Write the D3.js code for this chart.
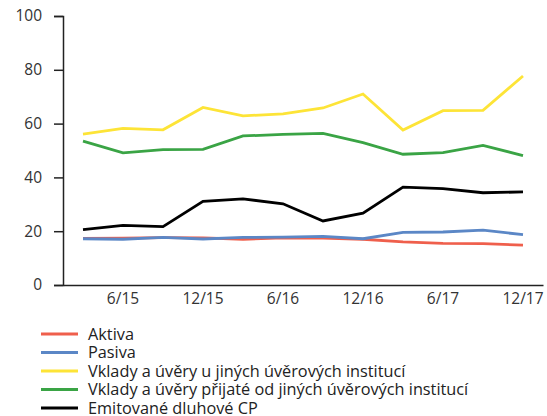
<!DOCTYPE html>
<html>
<head>
<meta charset="utf-8">
<script src="https://cdn.jsdelivr.net/npm/d3@7"></script>
<style>
  body { margin: 0; background: #fff; }
  text { font-family: "Open Sans", "Noto Sans", sans-serif; }
</style>
</head>
<body>
<svg width="547" height="416"></svg>
<script>
'use strict';

// quarters 3/15 .. 12/17
const quarters = ["3/15","6/15","9/15","12/15","3/16","6/16","9/16","12/16","3/17","6/17","9/17","12/17"];
const xTickLabels = ["6/15","12/15","6/16","12/16","6/17","12/17"];
const yTicks = [0, 20, 40, 60, 80, 100];

const aktiva   = [17.3, 17.4, 17.6, 17.5, 17.0, 17.5, 17.4, 17.0, 16.0, 15.5, 15.4, 14.8];
const pasiva   = [17.2, 17.0, 17.7, 17.1, 17.7, 17.8, 18.1, 17.2, 19.6, 19.7, 20.4, 18.7];
const vkladyU  = [56.1, 58.2, 57.7, 66.0, 62.9, 63.6, 65.8, 71.0, 57.6, 64.8, 64.9, 77.7];
const vkladyOd = [53.5, 49.1, 50.3, 50.4, 55.4, 56.0, 56.4, 52.9, 48.6, 49.2, 51.9, 48.1];
const emitCP   = [20.6, 22.2, 21.7, 31.1, 32.0, 30.2, 23.8, 26.7, 36.4, 35.8, 34.3, 34.6];

const seriesNames = [
  "Aktiva",
  "Pasiva",
  "Vklady a úvěry u jiných úvěrových institucí",
  "Vklady a úvěry přijaté od jiných úvěrových institucí",
  "Emitované dluhové CP"
];
const seriesValues = [aktiva, pasiva, vkladyU, vkladyOd, emitCP];
const seriesColors = ["#ef5f4c", "#5b87c6", "#fde437", "#3aa445", "#000000"];

const svg = d3.select("svg");

const plotLeft = 63, plotRight = 543, plotTop = 16, plotBottom = 285;

const x = d3.scaleBand()
    .domain(quarters)
    .range([plotLeft, plotRight]);

const y = d3.scaleLinear()
    .domain([0, 100])
    .range([plotBottom, plotTop]);

// y axis
const yAxis = svg.append("g")
    .attr("transform", `translate(${plotLeft},0)`)
    .call(d3.axisLeft(y).tickValues(yTicks).tickSize(9).tickPadding(12));
yAxis.select(".domain").attr("stroke", "#222").attr("stroke-width", 1.5);
yAxis.selectAll(".tick line").attr("stroke", "#222").attr("stroke-width", 1.5);
yAxis.selectAll("text")
    .attr("fill", "#333")
    .style("font-size", "15.5px");

// x axis
const xAxis = svg.append("g")
    .attr("transform", `translate(0,${plotBottom})`)
    .call(d3.axisBottom(x).tickValues(xTickLabels).tickSize(0).tickPadding(8).tickSizeOuter(0));
xAxis.select(".domain").attr("stroke", "#222").attr("stroke-width", 1.5);
xAxis.selectAll("text")
    .attr("fill", "#333")
    .style("font-size", "15.5px");

const line = d3.line()
    .x((d, i) => x(quarters[i]) + x.bandwidth() / 2)
    .y(d => y(d));

// draw lines
seriesValues.forEach((vals, k) => {
  svg.append("path")
      .datum(vals)
      .attr("fill", "none")
      .attr("stroke", seriesColors[k])
      .attr("stroke-width", 2.8)
      .attr("stroke-linejoin", "miter")
      .attr("d", line);
});

// legend
const legend = svg.append("g")
    .attr("transform", "translate(41,334)");

const legendRow = legend.selectAll("g")
    .data(seriesNames)
    .join("g")
    .attr("transform", (d, i) => `translate(0,${i * 18.5})`);

legendRow.append("line")
    .attr("x1", 0)
    .attr("x2", 37)
    .attr("stroke", (d, i) => seriesColors[i])
    .attr("stroke-width", 2.8);

legendRow.append("text")
    .attr("x", 47)
    .attr("dy", "0.35em")
    .attr("fill", "#222")
    .style("font-size", "16.3px")
    .text(d => d);
</script>
</body>
</html>
